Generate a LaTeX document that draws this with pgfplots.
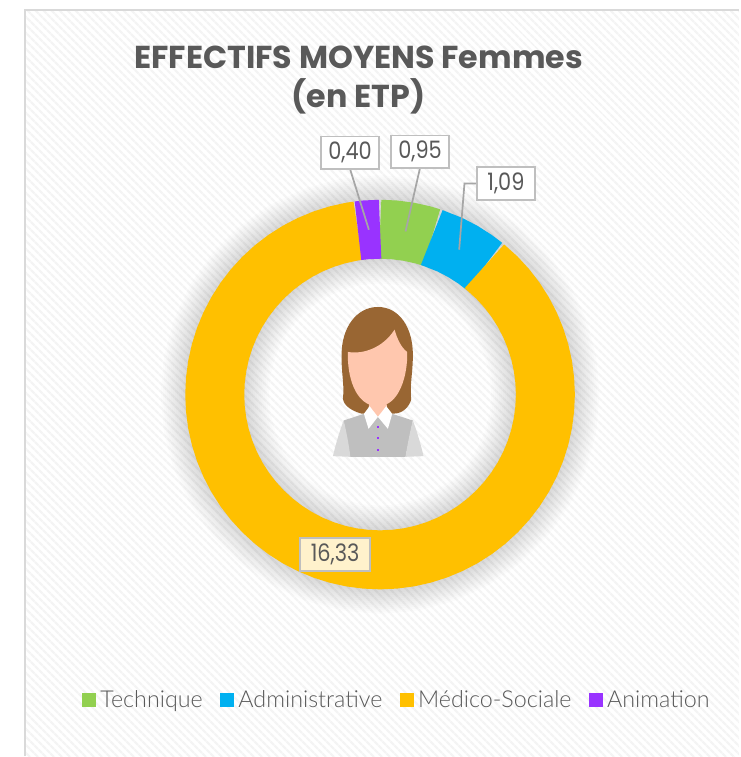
\documentclass[border=0pt]{standalone}
\usepackage{fontspec}
\usepackage{pgfplots}
\pgfplotsset{compat=1.18}
\usetikzlibrary{patterns.meta}
\setmainfont{Poppins}
\newfontfamily\legfont{Lato Light}
\newfontfamily\labfont[FakeStretch=0.87]{Poppins}

\definecolor{tech}{HTML}{92D050}
\definecolor{admi}{HTML}{00B0F0}
\definecolor{medi}{HTML}{FFC000}
\definecolor{anim}{HTML}{9933FF}
\definecolor{txt}{HTML}{595959}
\definecolor{lead}{HTML}{A6A6A6}
\definecolor{boxb}{HTML}{BFBFBF}
\definecolor{hair}{HTML}{996633}
\definecolor{skin}{HTML}{FFC7AE}

% slice values 0,95 1,09 16,33 0,40 (total 18,77), turned into angles, clockwise from the top
\tikzset{lab/.style={draw=boxb, line width=1.4pt, fill=white, text=txt, font=\labfont\fontsize{18pt}{20pt}\selectfont,
  minimum width=44pt, minimum height=24.6pt, inner sep=0pt}}

\begin{document}
\begin{tikzpicture}
\begin{axis}[
  x=0.75pt, y=0.75pt,
  xmin=-380.5, xmax=359.5, ymin=-362, ymax=395,
  hide axis, clip=false,
  legend style={at={(0.1108,0.0746)}, anchor=west, draw=none, fill=none,
    font=\legfont\fontsize{17.5pt}{19pt}\selectfont, text=txt,
    legend columns=-1, inner xsep=0pt, inner ysep=0pt,
    /tikz/every odd column/.append style={column sep=1.6pt},
    /tikz/every even column/.append style={column sep=11pt}},
  legend cell align=left,
]
% page size
\path (axis cs:-380.5,-362) rectangle (axis cs:359.5,395);
% background
\fill[white] (axis cs:-355.5,-362) rectangle (axis cs:359.5,385);
\fill[pattern={Lines[angle=-45,distance=4pt,line width=1.8pt]}, pattern color=black!4.5]
  (axis cs:-355.5,-362) rectangle (axis cs:359.5,385);
\draw[color=black!15, line width=1.3pt] (axis cs:-355.5,-362) -- (axis cs:-355.5,385) -- (axis cs:359.5,385);

% soft shadow
\pgfplotsinvokeforeach{60,64,...,108}{
  \addplot[forget plot, data cs=polar, black, opacity=0.012, line width=#1*0.75pt, line join=round] coordinates {
    (0,165.5) (10,165.5) (20,165.5) (30,165.5) (40,165.5) (50,165.5) (60,165.5) (70,165.5) (80,165.5)
    (90,165.5) (100,165.5) (110,165.5) (120,165.5) (130,165.5) (140,165.5) (150,165.5) (160,165.5) (170,165.5)
    (180,165.5) (190,165.5) (200,165.5) (210,165.5) (220,165.5) (230,165.5) (240,165.5) (250,165.5) (260,165.5)
    (270,165.5) (280,165.5) (290,165.5) (300,165.5) (310,165.5) (320,165.5) (330,165.5) (340,165.5) (350,165.5)} -- cycle;
}

% ring
\addplot[forget plot, data cs=polar, tech, line width=44.25pt] coordinates {
  (90,165.5) (85,165.5) (80,165.5) (75,165.5) (71.78,165.5)};
\addplot[forget plot, data cs=polar, admi, line width=44.25pt] coordinates {
  (71.78,165.5) (65,165.5) (60,165.5) (55,165.5) (50.87,165.5)};
\addplot[forget plot, data cs=polar, medi, line width=44.25pt] coordinates {
  (50.87,165.5) (45,165.5) (40,165.5) (35,165.5) (30,165.5) (25,165.5) (20,165.5) (15,165.5) (10,165.5) (5,165.5)
  (0,165.5) (-5,165.5) (-10,165.5) (-15,165.5) (-20,165.5) (-25,165.5) (-30,165.5) (-35,165.5) (-40,165.5) (-45,165.5)
  (-50,165.5) (-55,165.5) (-60,165.5) (-65,165.5) (-70,165.5) (-75,165.5) (-80,165.5) (-85,165.5) (-90,165.5) (-95,165.5)
  (-100,165.5) (-105,165.5) (-110,165.5) (-115,165.5) (-120,165.5) (-125,165.5) (-130,165.5) (-135,165.5) (-140,165.5) (-145,165.5)
  (-150,165.5) (-155,165.5) (-160,165.5) (-165,165.5) (-170,165.5) (-175,165.5) (-180,165.5) (-185,165.5) (-190,165.5) (-195,165.5)
  (-200,165.5) (-205,165.5) (-210,165.5) (-215,165.5) (-220,165.5) (-225,165.5) (-230,165.5) (-235,165.5) (-240,165.5) (-245,165.5)
  (-250,165.5) (-255,165.5) (-260,165.5) (-262.33,165.5)};
\addplot[forget plot, data cs=polar, anim, line width=44.25pt] coordinates {
  (97.67,165.5) (95,165.5) (90,165.5)};

% leader lines
\addplot[forget plot, lead, line width=1.3pt] coordinates {(-29.8,225) (-11.2,165)};
\addplot[forget plot, lead, line width=1.3pt] coordinates {(39.8,226) (25.5,163.3)};
\addplot[forget plot, lead, line width=1.3pt] coordinates {(96.2,211.3) (84.5,211.3) (79.2,145)};

% legend swatches
\addlegendimage{legend image code/.code={\fill[tech] (0pt,-4.9pt) rectangle (9.75pt,4.9pt);}}
\addlegendentry{Technique}
\addlegendimage{legend image code/.code={\fill[admi] (0pt,-4.9pt) rectangle (9.75pt,4.9pt);}}
\addlegendentry{Administrative}
\addlegendimage{legend image code/.code={\fill[medi] (0pt,-4.9pt) rectangle (9.75pt,4.9pt);}}
\addlegendentry{Médico-Sociale}
\addlegendimage{legend image code/.code={\fill[anim] (0pt,-4.9pt) rectangle (9.75pt,4.9pt);}}
\addlegendentry{Animation}

% woman icon, in 1/3 px units from its top left corner
\begin{scope}[shift={(axis cs:-60.5,100)}, x=0.25pt, y=-0.25pt]
  \fill[black!25] (72,378) -- (133,358) -- (218,358) -- (280,378) -- (258,487) -- (92,487) -- cycle;
  \fill[black!15] (72,378) .. controls (60,410) and (48,450) .. (40,485) -- (92,487) .. controls (88,450) and (80,410) .. (72,378) -- cycle;
  \fill[black!15] (280,378) .. controls (292,410) and (304,450) .. (312,485) -- (258,487) .. controls (264,450) and (272,410) .. (280,378) -- cycle;
  \fill[hair] (175,37) .. controls (240,37) and (280,100) .. (280,180) .. controls (280,240) and (270,270) .. (275,315)
    .. controls (270,335) and (250,357) .. (225,357) -- (125,357) .. controls (100,350) and (72,335) .. (70,312)
    .. controls (75,270) and (65,240) .. (66,180) .. controls (66,100) and (110,37) .. (175,37) -- cycle;
  \fill[skin] (150,315) -- (200,315) -- (203,345) -- (175,367) -- (147,345) -- cycle;
  \fill[white] (150,335) -- (133,358) -- (147,403) -- (175,367) -- cycle;
  \fill[white] (200,335) -- (218,358) -- (205,403) -- (175,367) -- cycle;
  \fill[skin] (85,172) .. controls (82,240) and (105,335) .. (175,335) .. controls (240,335) and (265,240) .. (263,172)
    .. controls (245,160) and (232,130) .. (225,105) .. controls (190,160) and (130,180) .. (85,172) -- cycle;
  \fill[anim] (172,393) rectangle (178,399);
  \fill[anim] (172,429) rectangle (178,435);
  \fill[anim] (172,465) rectangle (178,471);
\end{scope}

% data labels
\node[lab] at (axis cs:-30,242) {0,40};
\node[lab] at (axis cs:40,243) {0,95};
\node[lab] at (axis cs:126,211) {1,09};
\node[lab, fill=medi!20!white, minimum width=52.5pt] at (axis cs:-45,-160) {16,33};

% title
\node[text=txt, font=\bfseries\fontsize{23.8pt}{29.5pt}\selectfont, align=center, anchor=center]
  at (axis cs:-21.5,315) {EFFECTIFS MOYENS Femmes\\(en ETP)};
\end{axis}
\end{tikzpicture}
\end{document}
